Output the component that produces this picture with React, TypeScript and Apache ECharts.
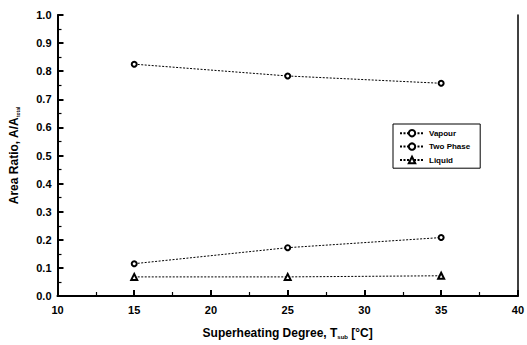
import React, { useEffect, useRef } from "react";
import * as echarts from "echarts";

const xValues = [15, 25, 35];
const vapour = [0.825, 0.783, 0.757];
const twoPhase = [0.115, 0.172, 0.208];
const liquid = [0.068, 0.068, 0.072];
const seriesNames = ["Vapour", "Two Phase", "Liquid"];

const FONT = "Liberation Sans, Arial, sans-serif";

export default function App() {
  const ref = useRef<HTMLDivElement>(null);
  useEffect(() => {
    if (!ref.current) return;
    const chart = echarts.init(ref.current, null, { renderer: "svg" });
    const mk = (name: string, vals: number[], symbol: string, size: number) => ({
      name,
      type: "line",
      data: xValues.map((x, i) => [x, vals[i]]),
      symbol,
      symbolSize: size,
      showSymbol: true,
      color: "#000",
      lineStyle: { color: "#000", width: 1, type: [2, 1.5] },
      itemStyle: { color: "#000", borderColor: "#000", borderWidth: 1.6 },
      z: 3,
    });
    chart.setOption({
      animation: false,
      backgroundColor: "#fff",
      color: ["#000", "#000", "#000"],
      textStyle: { fontFamily: FONT },
      grid: {
        left: 55,
        right: 5,
        top: 15,
        bottom: 47,
        show: false,
      },
      legend: {
        left: 393,
        top: 124,
        orient: "vertical",
        borderColor: "#000",
        borderWidth: 1,
        padding: [5, 10, 4, 6],
        itemGap: 5,
        itemWidth: 24,
        itemHeight: 8,
        backgroundColor: "#fff",
        textStyle: { fontFamily: FONT, fontSize: 8, fontWeight: "bold", color: "#000", padding: [0, 30, 0, 0] },
        data: seriesNames,
      },
      xAxis: [
        {
          type: "value",
          min: 10,
          max: 40,
          interval: 5,
          name: "Superheating Degree, T{s|sub} [°C]",
          nameLocation: "middle",
          nameGap: 30,
          nameTextStyle: {
            fontFamily: FONT,
            fontSize: 12,
            fontWeight: "bold",
            color: "#000",
            rich: { s: { fontSize: 6, fontWeight: "bold", padding: [8, 0, 0, 0], color: "#000" } },
          },
          axisLine: { show: true, lineStyle: { color: "#000", width: 2 } },
          axisTick: { show: true, inside: true, length: 6, lineStyle: { color: "#000", width: 2, opacity: 1 } },
          minorTick: { show: true, splitNumber: 2, length: 4, lineStyle: { color: "#000", width: 1.2, opacity: 1 } },
          splitLine: { show: false },
          minorSplitLine: { show: false },
          axisLabel: { color: "#000", fontSize: 11, fontWeight: "bold", margin: 8, fontFamily: FONT },
        },
        {
          type: "value",
          position: "top",
          min: 10,
          max: 40,
          axisLine: { show: true, lineStyle: { color: "#000", width: 1.5 } },
          axisTick: { show: false },
          axisLabel: { show: false },
          splitLine: { show: false },
        },
      ],
      yAxis: [
        {
          type: "value",
          min: 0,
          max: 1,
          interval: 0.1,
          name: "Area Ratio, A/A{s|total}",
          nameLocation: "middle",
          nameGap: 37,
          nameTextStyle: {
            fontFamily: FONT,
            fontSize: 12,
            fontWeight: "bold",
            color: "#000",
            rich: { s: { fontSize: 5, fontWeight: "bold", padding: [8, 0, 0, 0], color: "#000" } },
          },
          axisLine: { show: true, lineStyle: { color: "#000", width: 2 } },
          axisTick: { show: true, inside: true, length: 6, lineStyle: { color: "#000", width: 2, opacity: 1 } },
          minorTick: { show: true, splitNumber: 2, length: 4, lineStyle: { color: "#000", width: 1.2, opacity: 1 } },
          splitLine: { show: false },
          minorSplitLine: { show: false },
          axisLabel: {
            color: "#000",
            fontSize: 11,
            fontWeight: "bold",
            margin: 6,
            fontFamily: FONT,
            formatter: (v: number) => v.toFixed(1),
          },
        },
        {
          type: "value",
          position: "right",
          min: 0,
          max: 1,
          axisLine: { show: true, lineStyle: { color: "#000", width: 1.5 } },
          axisTick: { show: false },
          axisLabel: { show: false },
          splitLine: { show: false },
        },
      ],
      series: [
        mk(seriesNames[0], vapour, "emptyCircle", 5),
        mk(seriesNames[1], twoPhase, "emptyCircle", 5),
        mk(seriesNames[2], liquid, "emptyTriangle", 6),
      ],
    });
    return () => chart.dispose();
  }, []);
  return (
    <div
      ref={ref}
      style={{ position: "fixed", left: 0, top: 0, width: 527, height: 345, background: "#fff" }}
    />
  );
}
